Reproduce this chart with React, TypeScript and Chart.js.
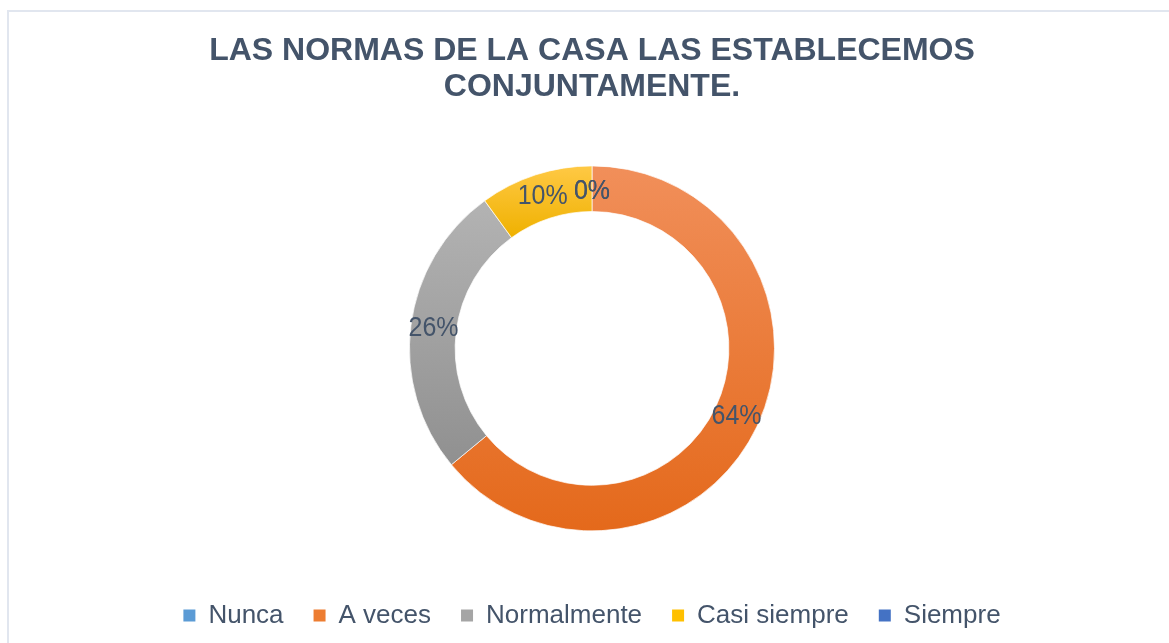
import React, { useEffect, useRef } from "react";
import { Chart, registerables } from "chart.js";

Chart.register(...registerables);

const categories = ["Nunca", "A veces", "Normalmente", "Casi siempre", "Siempre"];
const values = [0, 64, 26, 10, 0];
const percentLabels = ["0%", "64%", "26%", "10%", "0%"];
const titleLines = ["LAS NORMAS DE LA CASA LAS ESTABLECEMOS", "CONJUNTAMENTE."];
const baseColors = ["#5b9bd5", "#ed7d31", "#a5a5a5", "#ffc000", "#4472c4"];
const topColors = ["#7eb0e0", "#f18f5a", "#b3b3b3", "#ffc945", "#5a86d2"];
const bottomColors = ["#4a88c6", "#e4691b", "#909090", "#efb100", "#3a62b0"];

const TEXT = "#44546a";
const FONT = "'Liberation Sans', Arial, sans-serif";
const CUTOUT = 0.75;

function sliceGradient(ctx: any) {
  const chart = ctx.chart;
  const i = ctx.dataIndex;
  const ca = chart.chartArea;
  if (!ca || i === undefined) return baseColors[i ?? 0];
  const cx = (ca.left + ca.right) / 2;
  const cy = (ca.top + ca.bottom) / 2;
  const R = Math.min(ca.right - ca.left, ca.bottom - ca.top) / 2;
  const r = R * CUTOUT;
  const total = values.reduce((a, b) => a + b, 0);
  let before = 0;
  for (let k = 0; k < i; k++) before += values[k];
  const a0 = -Math.PI / 2 + (before / total) * Math.PI * 2;
  const a1 = a0 + (values[i] / total) * Math.PI * 2;
  if (a1 - a0 <= 0) return baseColors[i];
  let minY = Infinity;
  let maxY = -Infinity;
  for (let s = 0; s <= 80; s++) {
    const a = a0 + ((a1 - a0) * s) / 80;
    for (const rad of [r, R]) {
      const y = cy + Math.sin(a) * rad;
      if (y < minY) minY = y;
      if (y > maxY) maxY = y;
    }
  }
  const g = chart.ctx.createLinearGradient(0, minY, 0, maxY);
  g.addColorStop(0, topColors[i]);
  g.addColorStop(1, bottomColors[i]);
  return g;
}

const LEGEND_EXTRA_HEIGHT = 45.6;
const LEGEND_SHIFT = 41;

const legendShiftPlugin = {
  id: "legendShift",
  afterInit(chart: any) {
    const legend = chart.legend;
    if (!legend || legend.__patched) return;
    legend.__patched = true;
    const origFit = legend.fit.bind(legend);
    legend.fit = function () {
      origFit();
      this.height += LEGEND_EXTRA_HEIGHT;
    };
    const origDraw = legend.draw.bind(legend);
    legend.draw = function () {
      const c = this.ctx;
      c.save();
      c.translate(0, LEGEND_SHIFT);
      origDraw();
      c.restore();
    };
  },
};

const labelNudges: Record<number, [number, number]> = { 0: [0, 3], 4: [0, 3] };

const sliceLabelPlugin = {
  id: "sliceLabels",
  afterDatasetsDraw(chart: any) {
    const meta = chart.getDatasetMeta(0);
    const ctx = chart.ctx;
    ctx.save();
    ctx.font = `25px ${FONT}`;
    ctx.fillStyle = TEXT;
    ctx.textAlign = "center";
    ctx.textBaseline = "middle";
    meta.data.forEach((arc: any, i: number) => {
      const p = arc.getProps(["x", "y", "startAngle", "endAngle", "innerRadius", "outerRadius"], true);
      const mid = (p.startAngle + p.endAngle) / 2;
      const rad = (p.innerRadius + p.outerRadius) / 2;
      const n = labelNudges[i] || [0, 0];
      const x = p.x + Math.cos(mid) * rad + n[0];
      const y = p.y + Math.sin(mid) * rad + n[1];
      ctx.save();
      ctx.translate(x, y);
      ctx.scale(1, 1.12);
      ctx.fillText(percentLabels[i], 0, 0);
      ctx.restore();
    });
    ctx.restore();
  },
};

export default function App() {
  const canvasRef = useRef<HTMLCanvasElement | null>(null);

  useEffect(() => {
    if (!canvasRef.current) return;
    const chart = new Chart(canvasRef.current, {
      type: "doughnut",
      data: {
        labels: categories,
        datasets: [
          {
            data: values,
            backgroundColor: sliceGradient as any,
            borderColor: "rgba(255,255,255,0.7)",
            borderWidth: 1,
          },
        ],
      },
      options: {
        responsive: false,
        animation: false,
        cutout: "75%",
        layout: { padding: 0 },
        plugins: {
          title: {
            display: true,
            text: titleLines,
            color: TEXT,
            font: { family: FONT, size: 32, weight: "bold", lineHeight: 1.1 },
            padding: { top: 34, bottom: 61 },
          },
          legend: {
            display: true,
            position: "bottom",
            labels: {
              font: { family: FONT, size: 26 },
              color: TEXT,
              boxWidth: 12,
              boxHeight: 12,
              padding: 30,
              generateLabels: () =>
                categories.map((c, i) => ({
                  text: c,
                  fillStyle: baseColors[i],
                  strokeStyle: baseColors[i],
                  lineWidth: 0,
                  hidden: false,
                  index: i,
                  fontColor: TEXT,
                })),
            },
          },
          tooltip: { enabled: false },
        },
      },
      plugins: [legendShiftPlugin, sliceLabelPlugin],
    });
    return () => chart.destroy();
  }, []);

  return (
    <div
      style={{
        position: "fixed",
        left: 0,
        top: 0,
        width: 1169,
        height: 643,
        overflow: "hidden",
        background: "#ffffff",
      }}
    >
      <div
        style={{
          position: "absolute",
          left: 7,
          top: 10,
          width: 1170,
          height: 640,
          border: "2px solid #e1e6ef",
          boxSizing: "border-box",
        }}
      />
      <canvas
        ref={canvasRef}
        width={1170}
        height={643}
        style={{ position: "absolute", left: 7, top: 0, width: 1170, height: 643 }}
      />
    </div>
  );
}
